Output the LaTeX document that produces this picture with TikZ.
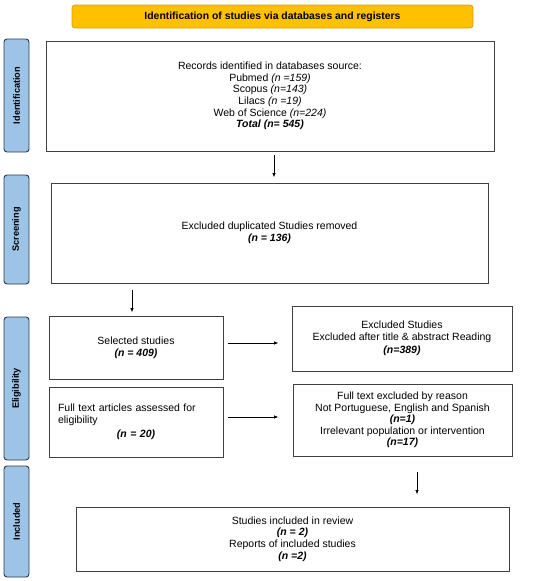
\documentclass[tikz,border=0pt]{standalone}
\usepackage{fontspec}
\setmainfont{Liberation Sans}
\usetikzlibrary{arrows.meta}
\definecolor{bannerfill}{HTML}{FFC000}
\definecolor{bannerdraw}{HTML}{D4A017}
\definecolor{sidefill}{HTML}{9DC3E6}
\definecolor{sidedraw}{HTML}{2E3B4E}
\definecolor{boxdraw}{HTML}{404040}
\tikzset{
  box/.style={draw=boxdraw, line width=0.9pt, fill=white, inner sep=0pt, align=center,
    font=\fontsize{10.5}{11.6}\selectfont},
  side/.style={draw=sidedraw, line width=0.9pt, fill=sidefill, rounded corners=3pt, rotate=90,
    minimum height=25pt, inner sep=0pt, font=\bfseries\fontsize{9.2}{10}\selectfont},
  banner/.style={draw=bannerdraw, line width=0.8pt, fill=bannerfill, rounded corners=3pt,
    minimum width=401pt, minimum height=23pt, inner sep=0pt, font=\bfseries\fontsize{10.4}{12}\selectfont},
  arr/.style={-{Latex[length=4.5pt,width=3.5pt]}, line width=0.8pt, black},
}
\newcommand{\bi}[1]{\textbf{\textit{#1}}}
\begin{document}
\begin{tikzpicture}[x=1pt,y=-1pt]
\useasboundingbox (0,0) rectangle (550,581);
\node[banner] (ban) at (272.5,16.5) {Identification of studies via databases and registers};
\node[side, minimum width=113pt] (sid) at (16.5,95.5) {Identification};
\node[side, minimum width=109pt] (ssc) at (16.5,229.5) {Screening};
\node[side, minimum width=143pt] (sel) at (16.5,388.5) {Eligibility};
\node[side, minimum width=111pt] (sin) at (16.5,521.5) {Included};

\node[box, minimum width=448pt, minimum height=110pt] (b1) at (270,96) {Records identified in databases source:\\
Pubmed \textit{(n =159)}\\ Scopus \textit{(n=143)}\\ Lilacs \textit{(n =19)}\\ Web of Science \textit{(n=224)}\\
\bi{Total (n= 545)}};
\node[box, minimum width=437pt, minimum height=100pt] (b2) at (269.5,233) {Excluded duplicated Studies removed\\ \bi{(n = 136)}};
\node[box, minimum width=174pt, minimum height=63pt] (b3) at (136,347.5) {Selected studies\\ \bi{(n = 409)}};
\node[box, minimum width=220pt, minimum height=65pt] (b4) at (402,338.5) {Excluded Studies\\ Excluded after title \& abstract Reading\\[2pt] \bi{(n=389)}};
\node[box, minimum width=174pt, minimum height=70pt, text width=156pt, inner xsep=9pt, align=left] (b5) at (136,422)
  {Full text articles assessed for\\ eligibility\\[2.5pt] \makebox[\linewidth][c]{\bi{(n = 20)}}};
\node[box, minimum width=219pt, minimum height=72pt] (b6) at (402.5,420) {Full text excluded by reason\\ Not Portuguese, English and Spanish\\ \bi{(n=1)}\\ Irrelevant population or intervention\\ \bi{(n=17)}};
\node[box, minimum width=433pt, minimum height=64pt] (b7) at (292.5,539) {Studies included in review\\ \bi{(n = 2)}\\ Reports of included studies\\ \bi{(n =2)}};

\draw[arr, shorten <=4pt, shorten >=5pt] ([xshift=4pt]b1.south) -- ([xshift=4pt]b1.south |- b2.north);
\draw[arr, shorten <=7pt, shorten >=3pt] ([xshift=-4pt]b3.north |- b2.south) -- ([xshift=-4pt]b3.north);
\draw[arr, shorten <=5pt, shorten >=13pt] ([yshift=4.5pt]b3.east) -- ([yshift=4.5pt]b3.east -| b4.west);
\draw[arr, shorten <=5pt, shorten >=14pt] ([yshift=5pt]b5.east) -- ([yshift=5pt]b5.east -| b6.west);
\draw[arr, shorten <=16pt, shorten >=12pt] ([xshift=14.5pt]b6.south) -- ([xshift=14.5pt]b6.south |- b7.north);
\end{tikzpicture}
\end{document}
